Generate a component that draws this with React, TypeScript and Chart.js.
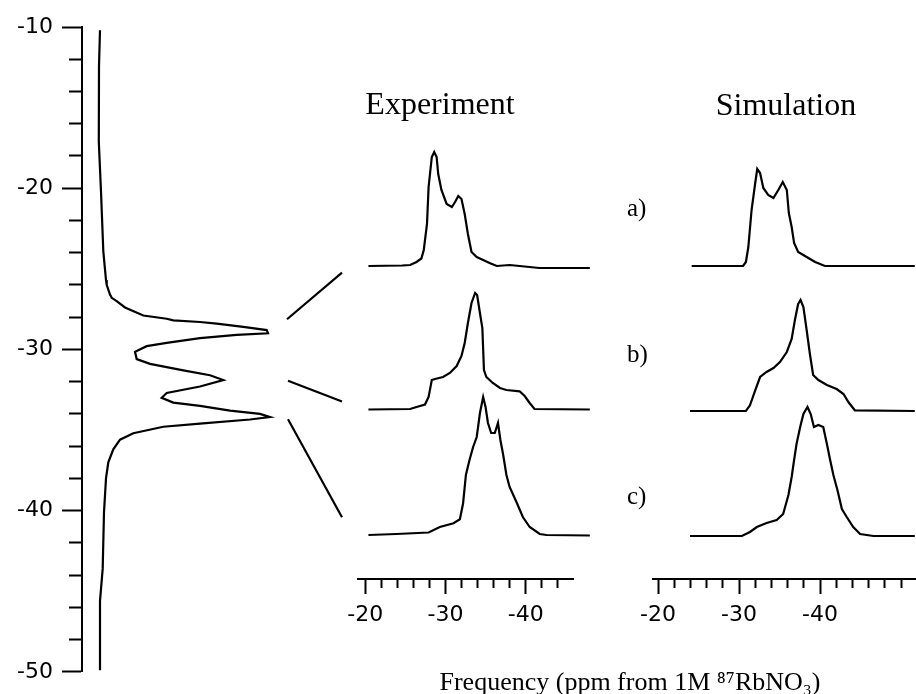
import { useEffect, useRef } from 'react';
import { Chart, registerables } from 'chart.js';

Chart.register(...registerables);

const WIDTH = 916;
const HEIGHT = 694;

// Full 87Rb spectrum, drawn sideways: frequency (ppm) runs down the left axis
const fullPpm = [
  -10.2, -12.4, -17.1, -20.2, -23.9, -25.7, -26.0, -26.6, -26.8, -27.0,
  -27.4, -27.9, -28.1, -28.2, -28.3, -28.4, -28.6, -28.8, -29.0, -29.1,
  -29.3, -29.6, -29.8, -30.15, -30.6, -30.9, -31.3, -31.6, -31.9, -32.3,
  -32.7, -33.0, -33.3, -33.5, -33.8, -34.0, -34.2, -34.35, -34.6, -34.8,
  -35.2, -35.6, -36.2, -37.0, -38.0, -40.1, -43.6, -45.6, -49.9,
];
const fullIntensity = [
  0, -1, -1.2, 1, 3.3, 6, 6.7, 10, 11.7, 16.7,
  25, 43.3, 66.7, 73.3, 100, 116.7, 143.3, 166.7, 168, 136.7,
  100, 66.7, 46.7, 35, 36.7, 50, 83.3, 110, 123.3, 100,
  66.7, 61.7, 73.3, 100, 130, 160, 170, 150, 100, 63.3,
  33.3, 20, 13.3, 8.3, 6, 4, 2.7, 0, 0,
];
const fullTicks = [
  -10, -12, -14, -16, -18, -20, -22, -24, -26, -28, -30,
  -32, -34, -36, -38, -40, -42, -44, -46, -48, -50,
];
const fullTickLabels = [-10, -20, -30, -40, -50];

// Guide lines from the three lines of the full spectrum to the expanded traces
const guideIntensity = [[187, 242], [188, 242], [188, 242]];
const guidePpm = [[-28.13, -25.24], [-31.94, -33.23], [-34.33, -40.41]];

// Experimental lineshapes a), b), c)
const expPpmA = [-20.4, -24.6, -25.6, -26.4, -27.0, -27.3, -27.7, -27.9, -28.3, -28.6, -28.9, -29.1, -29.5, -30.15, -30.8, -31.2, -31.6, -32.0, -32.4, -32.8, -33.25, -33.9, -34.7, -35.5, -36.4, -38.0, -39.25, -41.7, -48.0];
const expIntA = [0, 0.5, 1, 4, 7.5, 16, 42, 79, 109, 114, 109, 92, 76, 62, 59, 64, 70, 67, 52, 32, 14, 9, 6, 3, 0, 1, 0, -2, -2];
const expPpmB = [-20.4, -25.6, -26.4, -27.45, -27.9, -28.3, -28.7, -29.7, -30.55, -31.4, -32.0, -32.4, -32.8, -33.25, -33.7, -33.95, -34.3, -34.6, -34.8, -35.1, -35.9, -36.8, -37.6, -39.25, -39.9, -40.5, -41.1, -48.0];
const expIntB = [-0.5, 0, 2, 4.5, 12, 29, 30, 32, 36, 43, 53, 66, 86, 106, 116, 114, 96, 81, 39, 32, 26, 21, 19, 17.7, 12.7, 6, 0, -0.5];
const expPpmC = [-20.4, -23.9, -27.9, -29.3, -31.0, -31.8, -32.2, -32.55, -33.0, -33.45, -33.9, -34.3, -34.7, -35.0, -35.3, -35.7, -36.15, -36.55, -36.85, -37.2, -37.6, -38.0, -38.85, -39.65, -40.5, -41.75, -42.6, -48.0];
const expIntC = [0, 1, 2.5, 8, 11.7, 15.7, 31.7, 60, 75, 88, 98, 122, 138, 128, 112, 102, 102, 112, 95, 80, 60, 48, 33, 18, 8, 1, 0, -0.5];

// Simulated lineshapes a), b), c)
const simPpmA = [-24.15, -30.5, -30.85, -31.15, -31.55, -32.0, -32.25, -32.6, -33.0, -33.6, -34.25, -34.85, -35.4, -35.9, -36.15, -36.5, -36.8, -37.3, -38.35, -39.4, -40.6, -51.7];
const simIntA = [0, 0, 4, 19, 56, 83, 97, 93, 78, 71, 68, 76, 84, 76, 53, 39, 23, 14, 9, 4, 0, 0];
const simPpmB = [-23.95, -30.85, -31.35, -32.0, -32.6, -33.4, -34.25, -35.05, -35.9, -36.5, -36.9, -37.3, -37.6, -37.95, -38.35, -38.75, -39.15, -39.8, -40.85, -42.05, -42.9, -43.5, -44.3, -51.7];
const simIntB = [0, 0, 5.7, 20.7, 34, 39, 43, 49, 59, 72, 91, 107, 111, 104, 81, 57, 36, 31, 26, 22, 17, 9, 0.7, 0];
const simPpmC = [-23.95, -30.35, -31.35, -32.2, -33.4, -34.65, -35.45, -36.1, -36.5, -36.8, -37.1, -37.55, -37.95, -38.45, -38.85, -39.25, -39.8, -40.4, -40.85, -41.25, -41.65, -42.15, -42.7, -43.3, -44.1, -44.95, -46.6, -51.7];
const simIntC = [0, 0, 4, 9, 13, 16, 22, 41, 59, 76, 92, 109, 122, 129, 122, 109, 111, 109, 92, 76, 61, 46, 27, 19, 9, 2, 0, 0];

const expTicks = [-20, -22, -24, -26, -28, -30, -32, -34, -36, -38, -40, -42, -44];
const simTicks = [-20, -22, -24, -26, -28, -30, -32, -34, -36, -38, -40, -42, -44, -46, -48, -50];
const panelTickLabels = [-20, -30, -40];

const panelTitles = ['Experiment', 'Simulation'];
const rowLabels = ['a)', 'b)', 'c)'];
const axisTitle = 'Frequency (ppm from 1M \u2078\u2077RbNO\u2083)';

const INK = '#000';
const TICK_FONT = { family: '"DejaVu Sans", sans-serif', size: 22 };

// vertical stacking of the three rows inside each panel (y units)
const EXP_ROW_OFFSET = [313, 170, 44];
const SIM_ROW_OFFSET = [313, 168, 43];

function lineDataset(points: { x: number; y: number }[]) {
  return {
    data: points,
    showLine: true,
    borderColor: INK,
    borderWidth: 2.2,
    pointRadius: 0,
    tension: 0,
    clip: false as const,
  };
}

function trace(ppm: number[], intensity: number[], offset: number) {
  return lineDataset(ppm.map((p, i) => ({ x: p, y: intensity[i] + offset })));
}

function panelAxis(min: number, max: number, ticks: number[]) {
  return {
    type: 'linear' as const,
    position: 'bottom' as const,
    reverse: true,
    min,
    max,
    afterBuildTicks: (s: any) => {
      s.ticks = ticks.map((v) => ({ value: v }));
    },
    afterFit: (s: any) => {
      s.height = 60;
    },
    border: { display: true, color: INK, width: 2 },
    grid: {
      drawOnChartArea: false,
      drawTicks: true,
      tickLength: 15,
      tickWidth: 2,
      tickColor: INK,
      tickBorderDash: (c: any) =>
        c.tick && panelTickLabels.includes(c.tick.value) ? [] : [8, 100],
    },
    ticks: {
      autoSkip: false,
      maxRotation: 0,
      padding: 8,
      color: INK,
      font: TICK_FONT,
      callback: (v: any) => (panelTickLabels.includes(Number(v)) ? String(v) : ''),
    },
  };
}

const figureText = {
  id: 'figureText',
  afterDraw(chart: any) {
    const ctx = chart.ctx as CanvasRenderingContext2D;
    ctx.save();
    ctx.fillStyle = INK;
    ctx.textBaseline = 'alphabetic';
    ctx.textAlign = 'center';
    ctx.font = '32px "Liberation Serif", serif';
    ctx.fillText(panelTitles[0], 440, 114);
    ctx.fillText(panelTitles[1], 786, 115);
    ctx.font = '25px "Liberation Serif", serif';
    ctx.textAlign = 'left';
    ctx.fillText(rowLabels[0], 627, 216);
    ctx.fillText(rowLabels[1], 627, 362);
    ctx.fillText(rowLabels[2], 627, 504);
    ctx.textAlign = 'center';
    ctx.font = '26px "Liberation Serif", serif';
    ctx.fillText(axisTitle, 630, 690);
    ctx.restore();
  },
};

const baseOptions = {
  animation: false as const,
  responsive: false,
  maintainAspectRatio: false,
  events: [] as any[],
  plugins: { legend: { display: false }, tooltip: { enabled: false }, title: { display: false } },
};

function fullChartConfig(): any {
  const datasets: any[] = [
    lineDataset(fullPpm.map((p, i) => ({ x: fullIntensity[i], y: p }))),
  ];
  guidePpm.forEach((pair, k) => {
    datasets.push(lineDataset(pair.map((p, i) => ({ x: guideIntensity[k][i], y: p }))));
  });
  return {
    type: 'scatter',
    data: { datasets },
    options: {
      ...baseOptions,
      layout: { padding: { left: 0, right: 0, top: 27, bottom: 16 } },
      scales: {
        x: { type: 'linear', display: false, min: -18, max: 816 },
        y: {
          type: 'linear',
          position: 'left',
          min: -50,
          max: -10,
          afterBuildTicks: (s: any) => {
            s.ticks = fullTicks.map((v) => ({ value: v }));
          },
          afterFit: (s: any) => {
            s.width = 82;
          },
          border: { display: true, color: INK, width: 2 },
          grid: {
            drawOnChartArea: false,
            drawTicks: true,
            tickLength: 20,
            tickWidth: 2,
            tickColor: INK,
            tickBorderDash: (c: any) =>
              c.tick && fullTickLabels.includes(c.tick.value) ? [] : [0, 7, 13, 100],
          },
          ticks: {
            autoSkip: false,
            padding: 9,
            color: INK,
            font: TICK_FONT,
            callback: (v: any) => (fullTickLabels.includes(Number(v)) ? String(v) : ''),
          },
        },
      },
    },
  };
}

function panelChartConfig(
  rows: [number[], number[]][],
  offsets: number[],
  left: number,
  right: number,
  min: number,
  max: number,
  ticks: number[],
  extraPlugins: any[],
): any {
  return {
    type: 'scatter',
    data: { datasets: rows.map(([p, v], i) => trace(p, v, offsets[i])) },
    options: {
      ...baseOptions,
      layout: { padding: { left, right, top: 100, bottom: 55 } },
      scales: {
        x: panelAxis(min, max, ticks),
        y: { type: 'linear', display: false, min: 0, max: 479 },
      },
    },
    plugins: extraPlugins,
  };
}

export default function App() {
  const fullRef = useRef<HTMLCanvasElement>(null);
  const expRef = useRef<HTMLCanvasElement>(null);
  const simRef = useRef<HTMLCanvasElement>(null);

  useEffect(() => {
    const charts = [
      new Chart(fullRef.current!, fullChartConfig()),
      new Chart(
        expRef.current!,
        panelChartConfig(
          [[expPpmA, expIntA], [expPpmB, expIntB], [expPpmC, expIntC]],
          EXP_ROW_OFFSET,
          358,
          WIDTH - 573,
          -45.9,
          -19.1,
          expTicks,
          [],
        ),
      ),
      new Chart(
        simRef.current!,
        panelChartConfig(
          [[simPpmA, simIntA], [simPpmB, simIntB], [simPpmC, simIntC]],
          SIM_ROW_OFFSET,
          653,
          0,
          -51.85,
          -19.38,
          simTicks,
          [figureText],
        ),
      ),
    ];
    return () => charts.forEach((c) => c.destroy());
  }, []);

  const layer: any = { position: 'absolute', left: 0, top: 0 };
  return (
    <div
      style={{
        position: 'fixed',
        left: 0,
        top: 0,
        width: WIDTH,
        height: HEIGHT,
        background: '#fff',
        overflow: 'hidden',
      }}
    >
      <canvas ref={fullRef} width={WIDTH} height={HEIGHT} style={layer} />
      <canvas ref={expRef} width={WIDTH} height={HEIGHT} style={layer} />
      <canvas ref={simRef} width={WIDTH} height={HEIGHT} style={layer} />
    </div>
  );
}
